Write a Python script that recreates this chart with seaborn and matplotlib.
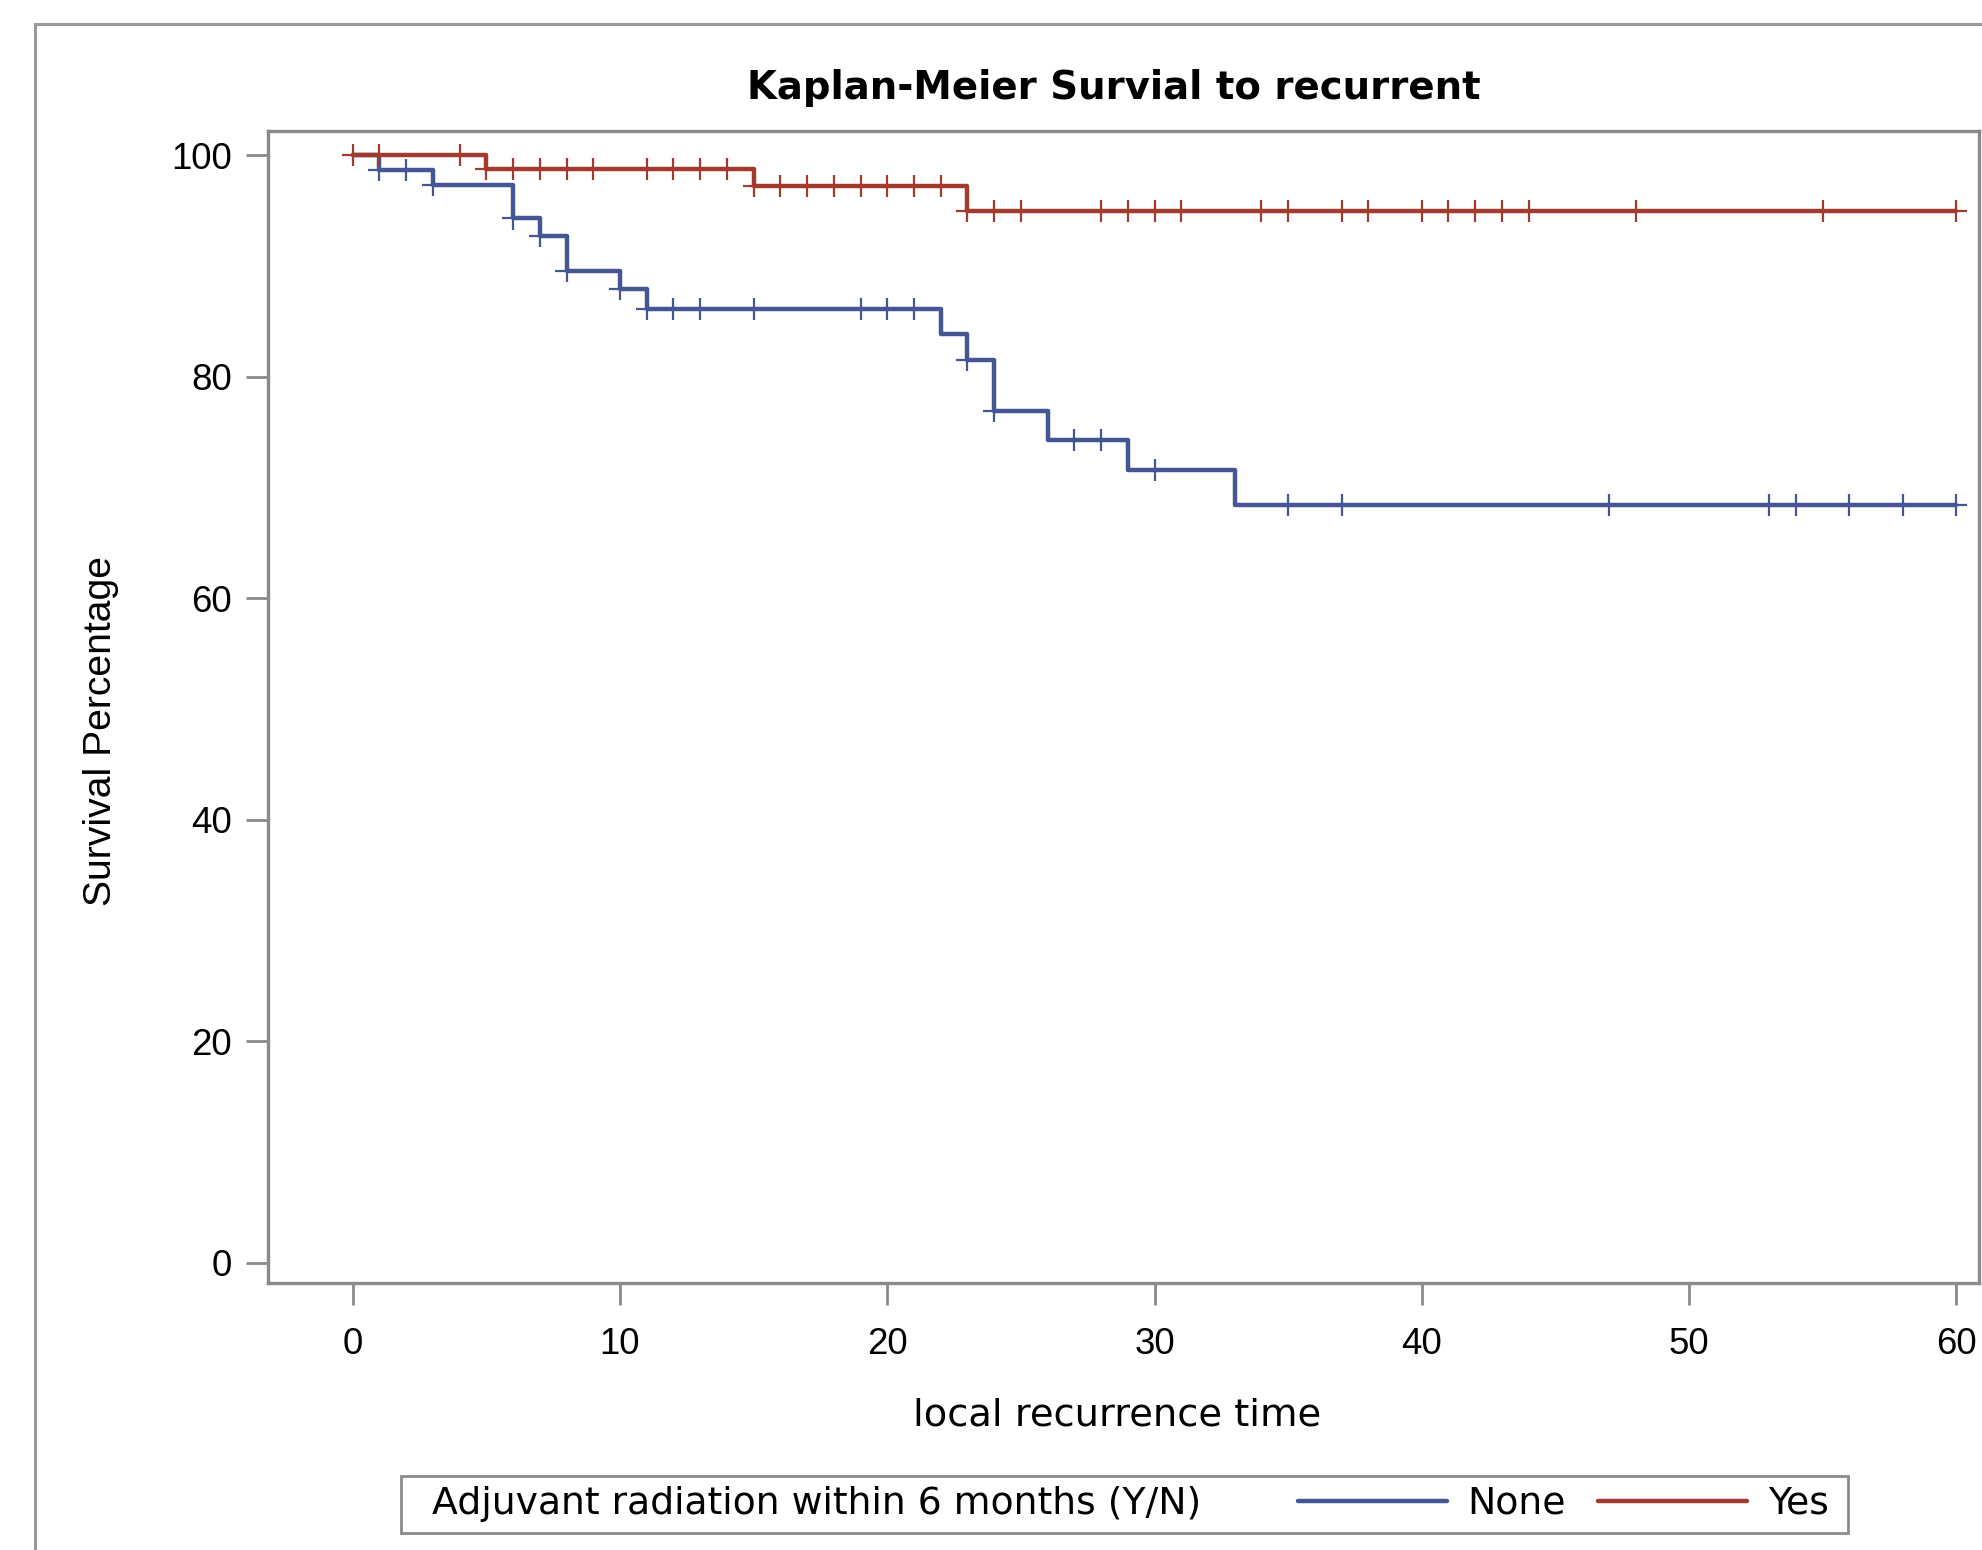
import numpy as np
import pandas as pd
import seaborn as sns
import matplotlib.pyplot as plt
from matplotlib.patches import Rectangle
from matplotlib.lines import Line2D

# Kaplan-Meier steps (time in months, survival in %)
none_step_time = [0, 1, 3, 6, 7, 8, 10, 11, 22, 23, 24, 26, 29, 33, 60]
none_step_surv = [100, 98.7, 97.3, 94.3, 92.7, 89.6, 87.9, 86.1, 83.9, 81.5, 76.9, 74.3, 71.6, 68.4, 68.4]
none_censored = [1, 2, 3, 6, 7, 8, 10, 11, 12, 13, 15, 19, 20, 21, 23, 24, 27, 28, 30,
                 35, 37, 47, 53, 54, 56, 58, 60]

yes_step_time = [0, 5, 15, 23, 60]
yes_step_surv = [100, 98.8, 97.2, 95.0, 95.0]
yes_censored = [0, 1, 4, 5, 6, 7, 8, 9, 11, 12, 13, 14, 15, 16, 17, 18, 19, 20, 21, 22,
                23, 24, 25, 28, 29, 30, 31, 34, 35, 37, 38, 40, 41, 42, 43, 44, 48, 55, 60]

groups = ["None", "Yes"]
colors = {"None": "#445694", "Yes": "#A23A2E"}

steps = []
cens = []
for g, t, s, c in [("None", none_step_time, none_step_surv, none_censored),
                   ("Yes", yes_step_time, yes_step_surv, yes_censored)]:
    steps.append(pd.DataFrame({"time": t, "surv": s, "group": g}))
    idx = np.searchsorted(t, c, side="right") - 1
    cens.append(pd.DataFrame({"time": c, "surv": np.array(s)[idx], "group": g}))
steps = pd.concat(steps, ignore_index=True)
cens = pd.concat(cens, ignore_index=True)

sns.set_style("white")
plt.rcParams["font.family"] = ["Liberation Sans", "DejaVu Sans"]
plt.rcParams["text.color"] = "black"
gray = "#8a8a8a"

W, H = 1982, 1550
fig = plt.figure(figsize=(W / 200, H / 200), dpi=200)
ax = fig.add_axes([268 / W, 1 - 1283 / H, (1979 - 268) / W, (1283 - 131) / H])

sns.lineplot(data=steps, x="time", y="surv", hue="group", palette=colors,
             drawstyle="steps-post", estimator=None, linewidth=1.6,
             legend=False, ax=ax)
sns.scatterplot(data=cens, x="time", y="surv", hue="group", palette=colors,
                marker="+", s=64, linewidth=0.8, legend=False, ax=ax, zorder=3)

ax.set_xlim(-3.17, 60.85)
ax.set_ylim(-1.82, 102.2)
ax.set_xticks(range(0, 61, 10))
ax.set_yticks(range(0, 101, 20))
ax.set_xlabel("")
ax.set_ylabel("")
for sp in ax.spines.values():
    sp.set_visible(True)
    sp.set_color(gray)
    sp.set_linewidth(1.2)
ax.tick_params(axis="both", which="major", direction="out", length=8,
               width=1.0, color=gray, labelsize=13.2, labelcolor="black",
               left=True, bottom=True)
ax.tick_params(axis="y", pad=5)
ax.tick_params(axis="x", pad=8)

# titles and axis labels
fig.text(1114 / W, 1 - 88 / H, "Kaplan-Meier Survial to recurrent",
         ha="center", va="center", fontsize=13.9, fontweight="bold",
         family=["DejaVu Sans"])
fig.text(101 / W, 1 - 731 / H, "Survival Percentage", rotation=90,
         ha="center", va="center", fontsize=14.1)
fig.text(1117 / W, 1 - 1416 / H, "local recurrence time",
         ha="center", va="center", fontsize=13.8, family=["DejaVu Sans"])

# outer graph border
fig.add_artist(Rectangle((35 / W, -0.1), 1.2, 1 - 24 / H + 0.1,
                         transform=fig.transFigure, fill=False,
                         edgecolor="#9a9a9a", linewidth=1.1, clip_on=False))

# legend box
fig.add_artist(Rectangle((401 / W, 1 - 1533 / H), (1848 - 401) / W, (1533 - 1476) / H,
                         transform=fig.transFigure, fill=False,
                         edgecolor=gray, linewidth=1.0))
fig.text(432 / W, 1 - 1504 / H, "Adjuvant radiation within 6 months (Y/N)",
         ha="left", va="center", fontsize=13.6, family=["DejaVu Sans"])
handles = [Line2D([], [], color=colors[g], linewidth=1.6) for g in groups]
fig.legend(handles, groups, loc="center left",
           bbox_to_anchor=(1298 / W, 1 - 1504 / H), frameon=False, ncol=2,
           handlelength=3.94, handletextpad=0.55, columnspacing=0.85,
           borderpad=0, borderaxespad=0,
           prop={"family": "DejaVu Sans", "size": 13.6})

fig.savefig("out.png", dpi=200)
